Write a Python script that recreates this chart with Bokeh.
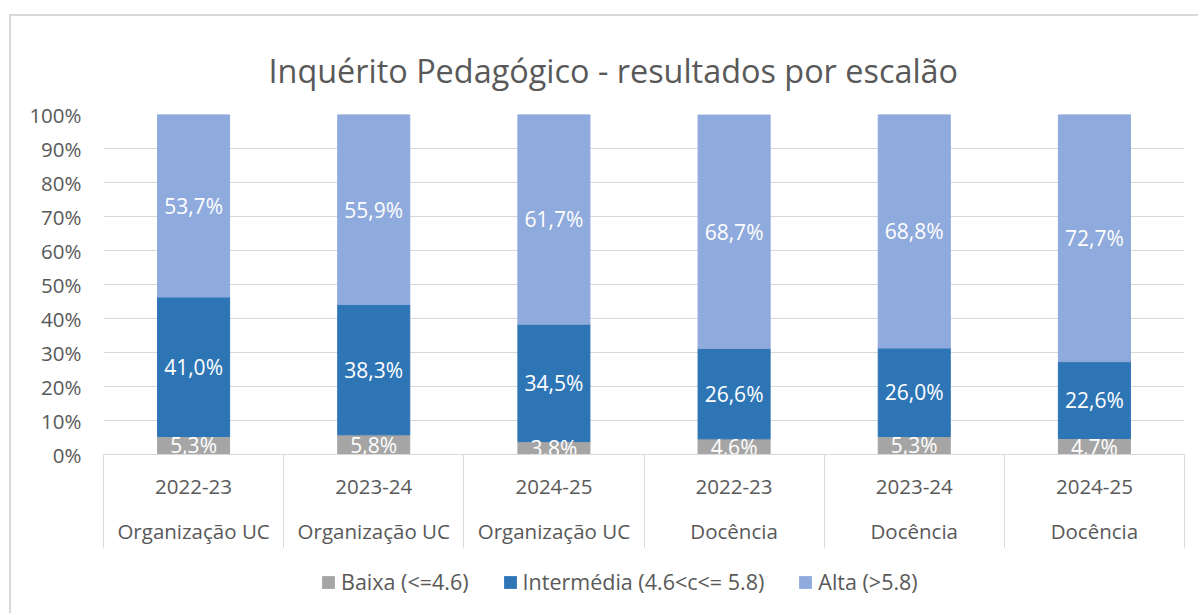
from bokeh.plotting import figure
from bokeh.models import (ColumnDataSource, FixedTicker, LinearAxis, Range1d,
                          Legend, LegendItem, NumeralTickFormatter, Grid)
from bokeh.layouts import column
from bokeh.core.properties import value
from bokeh.embed import file_html
from bokeh.resources import INLINE

# ---- data ----
years = ["2022-23", "2023-24", "2024-25", "2022-23", "2023-24", "2024-25"]
groups = ["Organização UC", "Organização UC", "Organização UC",
          "Docência", "Docência", "Docência"]
baixa = [5.3, 5.8, 3.8, 4.6, 5.3, 4.7]
intermedia = [41.0, 38.3, 34.5, 26.6, 26.0, 22.6]
alta = [53.7, 55.9, 61.7, 68.7, 68.8, 72.7]
series_names = ["Baixa (<=4.6)", "Intermédia (4.6<c<= 5.8)", "Alta (>5.8)"]
colors = ["#A5A5A5", "#2E75B6", "#8FAADC"]

FONT = "Open Sans"
GRAY = "#595959"
LINE = "#D9D9D9"
AX_FS = "20.5px"

n = len(years)
xs = [i + 0.5 for i in range(n)]

p = figure(width=1189, height=539, output_backend="svg", toolbar_location=None,
           x_range=Range1d(0, n), y_range=Range1d(0, 1),
           min_border_left=92, min_border_right=16, min_border_top=98,
           min_border_bottom=101, x_axis_type=None, y_axis_type=None)
p.outline_line_color = None
p.background_fill_color = "white"
p.border_fill_color = "white"

# y axis
yticker = FixedTicker(ticks=[i / 10 for i in range(11)], minor_ticks=[])
yax = LinearAxis(ticker=yticker, formatter=NumeralTickFormatter(format="0%"))
yax.axis_line_color = None
yax.major_tick_line_color = None
yax.minor_tick_line_color = None
yax.major_tick_out = 0
yax.minor_tick_out = 0
yax.major_label_text_font = FONT
yax.major_label_text_font_size = AX_FS
yax.major_label_text_color = GRAY
yax.major_label_standoff = 22
p.add_layout(yax, "left")
p.add_layout(Grid(dimension=1, ticker=yticker, grid_line_color=LINE))

# x axis 1: years, with separator minor ticks
xax1 = LinearAxis(ticker=FixedTicker(ticks=xs, minor_ticks=list(range(n + 1))))
xax1.major_label_overrides = {x: y for x, y in zip(xs, years)}
xax1.axis_line_color = LINE
xax1.major_tick_line_color = None
xax1.major_tick_out = 0
xax1.major_tick_in = 0
xax1.minor_tick_line_color = LINE
xax1.minor_tick_out = 93
xax1.minor_tick_in = 0
xax1.major_label_text_font = FONT
xax1.major_label_text_font_size = AX_FS
xax1.major_label_text_color = GRAY
xax1.major_label_standoff = -68
p.add_layout(xax1, "below")

# x axis 2: groups
xax2 = LinearAxis(ticker=FixedTicker(ticks=xs, minor_ticks=[]))
xax2.major_label_overrides = {x: g for x, g in zip(xs, groups)}
xax2.axis_line_color = None
xax2.major_tick_line_color = None
xax2.minor_tick_line_color = None
xax2.major_tick_out = 0
xax2.major_tick_in = 0
xax2.minor_tick_out = 0
xax2.major_label_text_font = FONT
xax2.major_label_text_font_size = AX_FS
xax2.major_label_text_color = GRAY
xax2.major_label_standoff = 20
p.add_layout(xax2, "below")

# stacked bars
b1 = [v / 100 for v in baixa]
b2 = [v / 100 for v in intermedia]
b3 = [v / 100 for v in alta]
top2 = [a + b for a, b in zip(b1, b2)]
top3 = [t + c for t, c in zip(top2, b3)]

src = ColumnDataSource(dict(
    x=xs, zero=[0] * n, t1=b1, t2=top2, t3=top3,
    y1=[v / 2 for v in b1],
    y2=[a + b / 2 for a, b in zip(b1, b2)],
    y3=[t + c / 2 for t, c in zip(top2, b3)],
    l1=[f"{v:.1f}%".replace(".", ",") for v in baixa],
    l2=[f"{v:.1f}%".replace(".", ",") for v in intermedia],
    l3=[f"{v:.1f}%".replace(".", ",") for v in alta],
))

p.vbar(x="x", bottom="zero", top="t1", width=0.4, color=colors[0], source=src)
p.vbar(x="x", bottom="t1", top="t2", width=0.4, color=colors[1], source=src)
p.vbar(x="x", bottom="t2", top="t3", width=0.4, color=colors[2], source=src)

for ycol, lcol in [("y1", "l1"), ("y2", "l2"), ("y3", "l3")]:
    p.text(x="x", y=ycol, text=lcol, source=src, text_color="white",
           text_font=value(FONT), text_font_size="21px",
           text_align="center", text_baseline="middle")

# title
p.title.text = "Inquérito Pedagógico - resultados por escalão"
p.title.text_font = FONT
p.title.text_font_size = "32.4px"
p.title.text_font_style = "normal"
p.title.text_color = GRAY
p.title.align = "left"
p.title.offset = 165
p.title.standoff = 45

# legend strip (separate figure so the legend sits below the axes)
lf = figure(width=1189, height=60, output_backend="svg", toolbar_location=None,
            x_range=Range1d(0, 1), y_range=Range1d(0, 1),
            min_border_left=0, min_border_right=0, min_border_top=0,
            min_border_bottom=0, x_axis_type=None, y_axis_type=None)
lf.outline_line_color = None
lf.grid.visible = False
# legend proxies: degenerate bars (no visible area), used only for legend swatches
lrs = [lf.vbar(x=[-5], bottom=[0], top=[0], width=0.4, fill_color=c, line_color=None)
       for c in colors]
legend = Legend(items=[LegendItem(label=series_names[i], renderers=[r])
                       for i, r in enumerate(lrs)],
                orientation="horizontal", location=(217, 19))
legend.label_text_font = FONT
legend.label_text_font_size = "21.5px"
legend.label_text_color = GRAY
legend.glyph_width = 16
legend.glyph_height = 16
legend.label_standoff = 5
legend.spacing = 33
legend.padding = 0
legend.margin = 0
legend.border_line_color = None
legend.background_fill_alpha = 0
lf.add_layout(legend, "center")

layout = column(p, lf, spacing=0)
layout.margin = (16, 0, 0, 11)
layout.styles = {"box-shadow": "-2px -2px 0 0 #D9D9D9"}

open("out.html", "w").write(file_html(layout, INLINE))
